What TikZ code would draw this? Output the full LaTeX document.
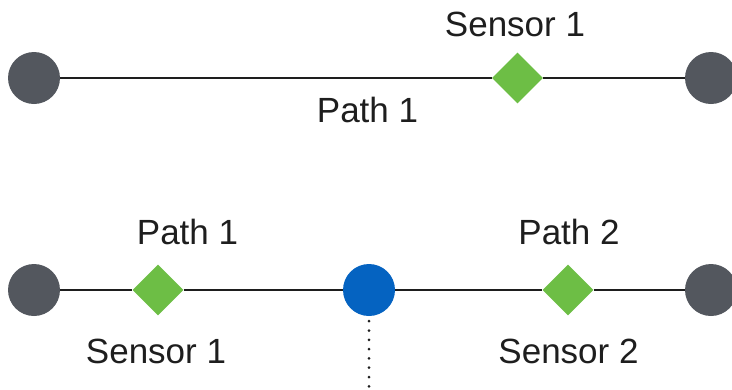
\documentclass[tikz,border=0pt]{standalone}
\usepackage{fontspec}
\setmainfont{Liberation Sans}
\usetikzlibrary{shapes.geometric}
\definecolor{endgrey}{HTML}{53575E}
\definecolor{sensorgreen}{HTML}{6DBE45}
\definecolor{junctionblue}{HTML}{0563C1}
\definecolor{inkdark}{HTML}{1E1E1E}
\tikzset{
  endpoint/.style={circle, fill=endgrey, minimum size=52pt, inner sep=0pt},
  junction/.style={circle, fill=junctionblue, minimum size=52pt, inner sep=0pt},
  sensor/.style={diamond, fill=sensorgreen, minimum size=51pt, inner sep=0pt, aspect=1},
  wire/.style={draw=inkdark, line width=2.5pt},
  dotline/.style={draw=inkdark, line width=3pt, line cap=round, dash pattern=on 0pt off 9.3pt},
  lbl/.style={anchor=base, inner sep=0pt, text=inkdark, font=\fontsize{35}{40}\selectfont}
}
\begin{document}
\begin{tikzpicture}[x=1pt, y=-1pt]
  \useasboundingbox (0,0) rectangle (732,389);
  \clip (0,0) rectangle (732,389);

  % single path with one sensor
  \node[endpoint] (a1) at (34,78) {};
  \node[sensor]   (s1) at (517.5,78) {};
  \node[endpoint] (b1) at (711,78) {};
  \draw[wire] (a1) -- (s1) -- (b1);
  \node[lbl] (ts1) at (515,36) {Sensor 1};
  \node[lbl] (tp1) at (367.5,122) {Path 1};

  % split path with a junction and two sensors
  \node[endpoint] (a2) at (34,290) {};
  \node[sensor]   (s21) at (158,290) {};
  \node[junction] (j)  at (369,290) {};
  \node[sensor]   (s22) at (568,290) {};
  \node[endpoint] (b2) at (711,290) {};
  \draw[wire] (a2) -- (s21) -- (j) -- (s22) -- (b2);
  \coordinate (jend) at (369,392);
  \draw[dotline] ([yshift=-5pt]j.south) -- (jend);

  \node[lbl] (bp1) at (187.5,244) {Path 1};
  \node[lbl] (bp2) at (569,244) {Path 2};
  \node[lbl] (bs1) at (156,363) {Sensor 1};
  \node[lbl] (bs2) at (568.5,363) {Sensor 2};
\end{tikzpicture}
\end{document}
